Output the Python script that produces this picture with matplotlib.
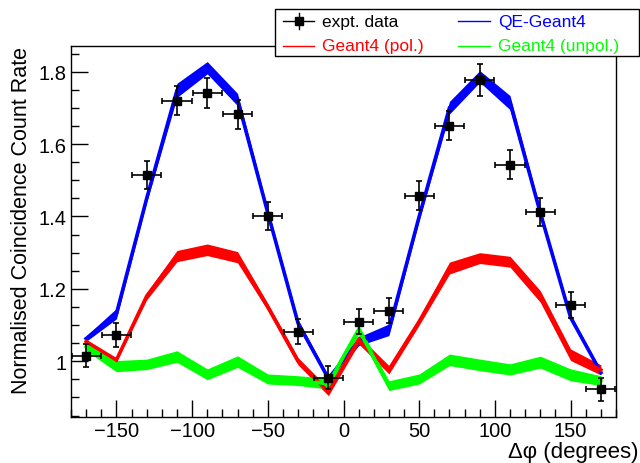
import numpy as np
import matplotlib
matplotlib.use("Agg")
import matplotlib.pyplot as plt
from matplotlib.patches import Rectangle
from matplotlib.lines import Line2D
from matplotlib.ticker import MultipleLocator, FuncFormatter

plt.rcParams['font.family'] = ['Liberation Sans', 'DejaVu Sans']

# delta phi bins (degrees)
dphi = np.arange(-170, 171, 20)

# measured data
expt = [1.015, 1.073, 1.515, 1.720, 1.741, 1.682, 1.402, 1.082, 0.954,
        1.109, 1.140, 1.457, 1.651, 1.778, 1.543, 1.413, 1.156, 0.922]
expt_err = [0.032, 0.033, 0.039, 0.041, 0.042, 0.041, 0.039, 0.035, 0.032,
            0.035, 0.034, 0.040, 0.041, 0.044, 0.040, 0.039, 0.036, 0.032]
dphi_err = 9.6

# simulation bands (low / high edge)
qe_lo = [1.055, 1.117, 1.440, 1.729, 1.794, 1.706, 1.400, 1.095, 0.945,
         1.043, 1.071, 1.390, 1.683, 1.771, 1.695, 1.400, 1.112, 0.963]
qe_hi = [1.070, 1.146, 1.460, 1.768, 1.828, 1.740, 1.420, 1.115, 0.960,
         1.067, 1.103, 1.410, 1.718, 1.803, 1.734, 1.420, 1.130, 0.975]
pol_lo = [1.050, 0.999, 1.170, 1.275, 1.292, 1.272, 1.140, 0.990, 0.905,
          1.048, 0.965, 1.100, 1.241, 1.270, 1.260, 1.163, 1.002, 0.962]
pol_hi = [1.059, 1.008, 1.190, 1.306, 1.324, 1.303, 1.160, 1.010, 0.925,
          1.071, 0.988, 1.120, 1.274, 1.300, 1.290, 1.195, 1.034, 0.990]
unpol_lo = [1.029, 0.971, 0.977, 0.997, 0.949, 0.983, 0.937, 0.933, 0.923,
            1.075, 0.919, 0.937, 0.988, 0.974, 0.962, 0.981, 0.946, 0.933]
unpol_hi = [1.052, 1.002, 1.006, 1.029, 0.979, 1.015, 0.965, 0.960, 0.953,
            1.100, 0.946, 0.965, 1.020, 1.006, 0.993, 1.014, 0.979, 0.960]

W, H = 640, 464
fig = plt.figure(figsize=(6.4, 4.64), dpi=100)
ax = fig.add_axes([71/W, 46/H, 545/W, 371/H])

for lo, hi, c in [(qe_lo, qe_hi, '#0000ff'),
                  (pol_lo, pol_hi, '#ff0000'),
                  (unpol_lo, unpol_hi, '#00ff00')]:
    ax.fill_between(dphi, lo, hi, color=c, lw=0)
    mid = (np.array(lo) + np.array(hi)) / 2
    ax.plot(dphi, mid, color=c, lw=2.6, solid_joinstyle='miter')

ax.errorbar(dphi, expt, yerr=expt_err, xerr=dphi_err, fmt='s', color='black',
            ms=6, elinewidth=1.2, capsize=2, capthick=1.2, zorder=5)

ax.set_xlim(-180, 180)
ax.set_ylim(0.846, 1.871)
ax.xaxis.set_major_locator(MultipleLocator(50))
ax.xaxis.set_minor_locator(MultipleLocator(10))
ax.yaxis.set_major_locator(MultipleLocator(0.2))
ax.yaxis.set_minor_locator(MultipleLocator(0.05))
ax.yaxis.set_major_formatter(FuncFormatter(lambda v, p: ('%g' % round(v, 2))))
ax.tick_params(which='both', direction='in', top=False, right=False,
               labelsize=14.5, width=1)
ax.tick_params(which='major', length=12)
ax.tick_params(which='minor', length=6)
ax.tick_params(axis='x', pad=3)
ax.tick_params(axis='y', pad=3)
for s in ax.spines.values():
    s.set_linewidth(1.0)

# axis titles, ROOT style (right / top aligned)
fig.text(638/W, 1 - 453/H, '\u0394\u03c6 (degrees)', fontsize=16,
         ha='right', va='center')
fig.text(22/W, 1 - 47/H, 'Normalised Coincidence Count Rate', fontsize=15.5,
         rotation=90, ha='center', va='top')

# legend box
box = Rectangle((275/W, 1 - 57/H), 364/W, 47/H, transform=fig.transFigure,
                facecolor='white', edgecolor='black', lw=1, zorder=10)
fig.add_artist(box)

entries = [
    (283, 314, 322, 22, 'expt. data', 'black', True),
    (458, 490, 498, 22, 'QE-Geant4', '#0000ff', False),
    (283, 314, 322, 47, 'Geant4 (pol.)', '#ff0000', False),
    (458, 490, 498, 47, 'Geant4 (unpol.)', '#00ff00', False),
]
for x0, x1, xt, yp, label, c, pts in entries:
    yf = 1 - yp/H
    fig.add_artist(Line2D([x0/W, x1/W], [yf, yf], transform=fig.transFigure,
                          color=c, lw=1, zorder=11))
    if pts:
        xm = (x0 + x1) / 2 / W
        fig.add_artist(Line2D([xm], [yf], transform=fig.transFigure, marker='s',
                              ms=6, color='black', zorder=12))
        fig.add_artist(Line2D([xm, xm], [yf - 8/H, yf + 8/H],
                              transform=fig.transFigure, color='black', lw=1,
                              zorder=12))
    fig.text(xt/W, yf, label, color=c, fontsize=12.5, va='center', ha='left',
             zorder=12)

fig.savefig('out.png', dpi=100)
